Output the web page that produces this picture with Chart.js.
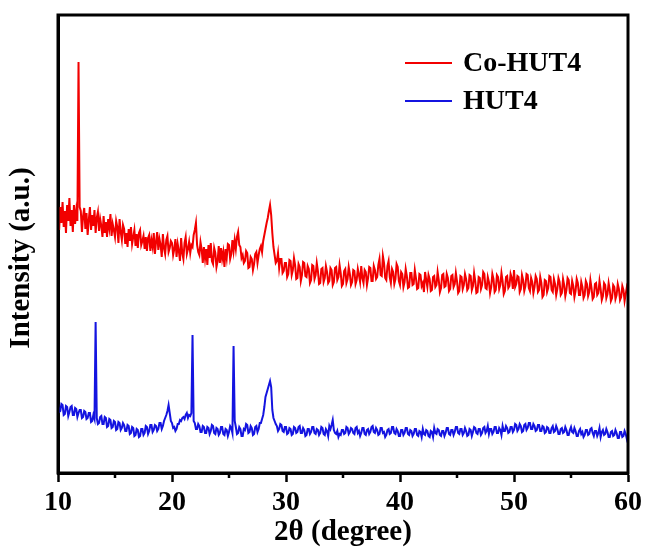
<!DOCTYPE html>
<html>
<head>
<meta charset="utf-8">
<script src="https://cdn.jsdelivr.net/npm/chart.js@4/dist/chart.umd.min.js"></script>
<style>
  html, body { margin: 0; padding: 0; background: #fff; }
  #wrap { width: 647px; height: 552px; }
</style>
</head>
<body>
<div id="wrap"><canvas id="xrd" width="647" height="552"></canvas></div>
<script>
// scan grid: 10° to 60° in 0.1° steps
const thetaStart = 10, thetaStep = 0.1, thetaCount = 501;
const twoTheta = [];
for (let i = 0; i < thetaCount; i++) twoTheta.push(+(thetaStart + i * thetaStep).toFixed(1));

const seriesNames = ['Co-HUT4', 'HUT4'];
const xTicks = [10, 20, 30, 40, 50, 60];
const minorTicks = [15, 25, 35, 45, 55];
const xTitle = '2θ (degree)';
const yTitle = 'Intensity (a.u.)';

// intensity (a.u.), one value per 0.1°, 20 values per row = 2°
const coHut4 = [
  270,243,266,250,271,246,262,240,268,252,275,247,263,241,268,249,262,252,411,266,
  262,241,257,265,244,260,238,253,266,243,258,247,263,240,255,261,242,254,247,236,
  257,240,251,236,254,245,259,237,249,243,236,252,246,230,254,241,233,248,244,229,
  240,226,244,232,246,229,236,243,227,239,225,240,243,228,232,237,224,236,222,235,
  238,222,233,226,240,219,231,241,223,234,228,216,239,225,219,233,237,221,225,232,
  230,218,224,234,216,229,222,212,235,220,214,230,236,219,224,231,220,228,226,238,
  243,250,228,221,218,231,224,210,226,214,224,208,228,215,230,212,209,225,220,206,
  212,227,210,225,214,221,206,224,215,229,228,214,219,233,222,233,224,236,241,228,
  226,215,218,210,212,222,220,205,206,216,214,203,209,219,221,210,218,224,227,221,
  232,238,244,250,255,262,268,258,240,226,218,210,212,220,205,214,214,200,202,210,
  210,196,199,213,212,198,203,215,208,194,195,209,206,192,198,211,210,197,196,207,
  204,190,193,208,207,194,198,210,202,189,190,204,205,191,195,207,201,190,192,205,
  203,188,191,205,206,193,196,208,200,187,189,202,204,190,194,206,199,188,191,203,
  202,189,193,204,198,191,207,195,190,203,201,188,195,206,205,192,192,207,203,194,
  196,208,214,198,197,217,210,195,193,207,212,196,190,204,201,189,194,209,206,192,
  188,201,199,186,191,204,197,185,186,200,200,188,189,203,195,184,185,199,198,187,
  190,181,201,193,186,198,194,182,183,196,197,186,188,201,193,181,185,198,199,186,
  187,199,195,182,184,197,198,186,189,200,192,180,182,197,196,184,188,199,194,183,
  185,198,197,183,187,200,192,180,181,196,195,184,188,201,199,185,184,196,191,180,
  186,199,194,181,183,198,196,184,188,200,192,179,182,196,197,185,187,199,195,184,
  203,186,189,197,196,181,184,198,193,182,187,199,198,185,182,195,191,180,186,197,
  194,181,183,196,190,176,178,193,192,181,185,197,196,183,181,194,189,178,184,195,
  191,178,180,194,188,177,183,195,193,180,179,192,187,176,182,194,190,178,178,191,
  186,175,178,192,189,177,181,193,185,174,176,189,190,178,180,192,184,173,177,190,
  188,175,179,190,183,172,175,188,186,174,178,189,184,173,176,187,183,172,179,186,
  182
];
const hut4 = [
  70,61,62,69,68,58,59,67,66,57,61,66,67,58,58,65,64,56,60,63,
  63,55,56,62,61,54,55,60,60,51,52,58,54,151,55,49,50,56,57,49,
  49,56,55,46,47,54,53,45,46,52,51,43,44,51,50,43,45,50,48,42,
  42,48,47,39,40,46,45,37,38,44,43,36,37,44,44,38,40,47,46,39,
  42,48,48,41,43,48,47,42,44,50,50,44,47,52,55,58,62,68,60,52,
  50,45,46,42,44,49,49,53,52,55,56,54,58,60,55,58,57,60,138,52,
  50,44,44,49,47,41,41,47,46,40,40,46,45,39,42,48,47,40,39,45,
  44,38,40,46,46,39,38,44,43,37,41,47,45,40,127,52,46,39,40,46,
  44,37,37,44,43,49,48,40,41,47,45,38,39,46,47,41,44,50,50,54,
  58,66,76,80,84,88,92,86,63,55,52,49,47,42,44,49,48,42,41,46,
  46,39,40,45,44,38,39,46,45,40,41,46,47,40,40,45,43,37,38,44,
  44,39,41,46,46,40,39,44,43,38,40,46,45,39,38,44,42,37,47,44,
  48,53,43,40,39,42,36,39,38,43,43,39,40,46,45,39,41,45,44,40,
  39,45,46,40,42,37,40,45,45,39,38,43,44,39,41,46,47,41,40,45,
  43,38,39,45,45,40,41,36,38,43,44,39,40,46,46,40,39,44,42,37,
  37,43,43,38,40,45,45,39,38,43,42,37,39,44,44,38,37,42,41,36,
  44,39,38,43,42,37,36,42,41,36,45,40,39,44,43,38,37,42,42,37,
  40,45,45,39,38,43,43,38,41,46,46,40,39,44,44,38,40,45,42,37,
  38,44,43,37,41,46,45,40,39,44,44,38,40,45,46,40,42,47,39,44,
  44,39,41,46,46,40,40,45,43,38,47,42,42,47,45,40,41,46,46,41,
  43,49,48,42,44,49,47,41,42,48,49,43,45,50,50,44,44,49,47,42,
  43,48,48,42,42,47,46,40,41,46,45,40,40,45,47,41,42,47,44,39,
  39,44,45,40,41,46,43,38,38,43,46,41,40,45,42,37,37,42,44,39,
  41,36,38,43,43,38,39,44,45,40,37,42,42,37,40,45,36,41,43,38,
  39,44,41,36,36,41,42,37,38,43,40,35,35,41,41,36,37,42,39,34,
  38
];

const serif = "'Liberation Serif', 'Times New Roman', serif";
const colors = ['#f20000', '#1414e0'];

// box around the plot, minor ticks, y title and the inset legend
const framePlugin = {
  id: 'frame',
  afterDatasetsDraw(chart) {
    const { ctx, chartArea: a, scales } = chart;
    ctx.save();
    ctx.strokeStyle = '#000';
    ctx.lineWidth = 3;
    ctx.strokeRect(a.left, a.top, a.right - a.left, a.bottom - a.top);
    ctx.lineWidth = 2.5;
    minorTicks.forEach(v => {
      const x = scales.x.getPixelForValue(v);
      ctx.beginPath(); ctx.moveTo(x, a.bottom); ctx.lineTo(x, a.bottom + 5); ctx.stroke();
    });

    ctx.fillStyle = '#000';
    ctx.font = 'bold 29px ' + serif;
    ctx.save();
    ctx.translate(22, 258);
    ctx.rotate(-Math.PI / 2);
    ctx.textAlign = 'center';
    ctx.textBaseline = 'middle';
    ctx.fillText(yTitle, 0, 0);
    ctx.restore();

    ctx.font = 'bold 28px ' + serif;
    ctx.textBaseline = 'middle';
    chart.data.datasets.forEach((ds, i) => {
      const y = 63 + i * 38;
      ctx.strokeStyle = ds.borderColor;
      ctx.lineWidth = 2;
      ctx.beginPath(); ctx.moveTo(405, y); ctx.lineTo(452, y); ctx.stroke();
      ctx.fillText(ds.label, 463, y + 1);
    });
    ctx.restore();
  }
};

new Chart(document.getElementById('xrd'), {
  type: 'line',
  data: {
    labels: twoTheta,
    datasets: [
      { label: seriesNames[0], data: coHut4, borderColor: colors[0], borderWidth: 2, pointRadius: 0, tension: 0 },
      { label: seriesNames[1], data: hut4, borderColor: colors[1], borderWidth: 2, pointRadius: 0, tension: 0 }
    ]
  },
  options: {
    responsive: false,
    animation: false,
    layout: { padding: { top: 15, right: 19, left: 0, bottom: 0 } },
    plugins: { legend: { display: false }, tooltip: { enabled: false } },
    scales: {
      x: {
        type: 'linear', min: 10, max: 60,
        afterBuildTicks: s => { s.ticks = xTicks.map(v => ({ value: v })); },
        afterFit: s => { s.height = 79; },
        grid: { display: true, drawOnChartArea: false, drawTicks: true, tickLength: 9, tickWidth: 2.5, tickColor: '#000' },
        border: { display: true, color: '#000', width: 3 },
        ticks: { color: '#000', padding: 4, maxRotation: 0, font: { family: serif, size: 28, weight: 'bold' } },
        title: { display: true, text: xTitle, color: '#000', padding: { top: 0, bottom: 2 }, font: { family: serif, size: 29, weight: 'bold' } }
      },
      y: {
        min: 0, max: 458,
        afterFit: s => { s.width = 58; },
        grid: { display: false },
        border: { display: true, color: '#000', width: 3 },
        ticks: { display: false },
        title: { display: false }
      }
    }
  },
  plugins: [framePlugin]
});
</script>
</body>
</html>
